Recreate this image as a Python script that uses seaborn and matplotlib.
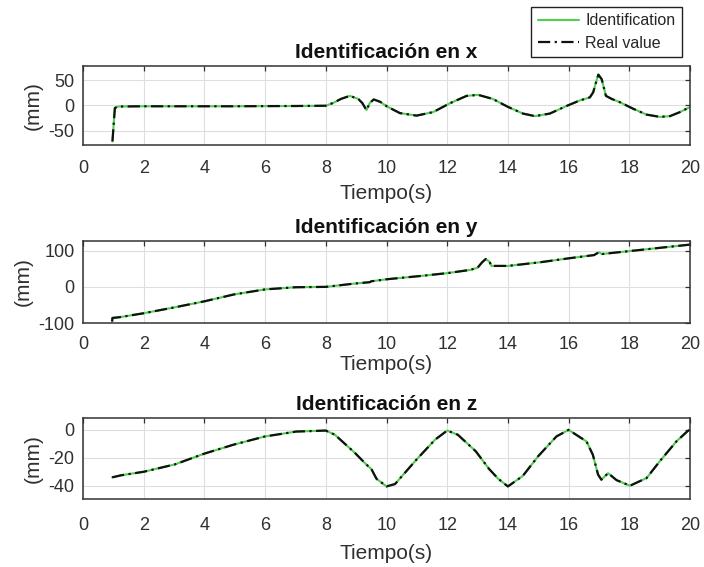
import numpy as np
import pandas as pd
import matplotlib
matplotlib.use("Agg")
import matplotlib.pyplot as plt
import seaborn as sns

# ---- data: position of the end effector per axis (mm) vs time (s) ----
t_x = [0.97, 1.05, 1.15, 2, 3, 4, 5, 6, 7, 8.0, 8.24, 8.5, 8.79, 9.07, 9.2,
       9.34, 9.45, 9.58, 9.8, 10.02, 10.44, 10.99, 11.54, 12.09, 12.64, 13.02,
       13.5, 14.01, 14.5, 14.89, 15.38, 15.93, 16.37, 16.7, 16.81, 16.9, 16.98,
       17.09, 17.23, 17.42, 17.69, 18.13, 18.57, 19.01, 19.34, 19.67, 20.0]
real_x = [-71, -5, -2, -1.5, -1.5, -1.5, -1.5, -1.2, -1, -0.5, 5, 13, 19, 13,
          5, -9, 5, 12, 7, -2, -15, -20, -13, 4.5, 19, 21, 13, -3, -16, -21,
          -16, -1, 10, 16, 26, 45, 61, 52, 19, 13, 6.5, -6.5, -18, -22.5, -21,
          -13, -3]

t_y = [0.96, 0.97, 1.2, 2.0, 3.0, 4.0, 4.97, 6.0, 7.0, 8.0, 8.93, 9.45, 9.5,
       10.0, 11.1, 12.0, 12.76, 13.0, 13.15, 13.27, 13.39, 13.46, 14.0, 15.05,
       16.0, 16.84, 17.0, 17.1, 18.0, 19.0, 20.0]
real_y = [-96, -86, -84, -73, -57, -40, -21, -7, -1, 0, 9, 13, 15.5, 21, 30,
          38, 47, 53, 68, 77, 70, 58, 58, 68, 79, 88, 96, 91, 99, 108, 117]

t_z = [0.96, 1.26, 2.0, 3.03, 4.0, 4.96, 6.0, 7.03, 8.0, 8.3, 8.96, 9.33, 9.5,
       9.67, 10.0, 10.28, 11.0, 11.6, 12.0, 12.35, 12.94, 13.38, 13.68, 14.0,
       14.49, 15.0, 15.6, 16.0, 16.59, 16.8, 16.97, 17.08, 17.3, 17.58, 18.02,
       18.57, 19.0, 19.55, 19.93, 20.0]
real_z = [-34, -32.5, -30, -24.7, -17, -10.6, -4.7, -1.2, -0.5, -3.5, -16.5,
          -24.7, -28, -35, -40.5, -38.8, -21, -7, -0.5, -3.5, -15.3, -28, -35,
          -40.5, -33, -18.8, -4.7, 0, -8.3, -17.9, -32, -35.7, -31, -36, -40,
          -34.5, -22.6, -8.3, -0.7, 0]

# the identified model tracks the measured trajectory
ident_x, ident_y, ident_z = real_x, real_y, real_z

titles = ["Identificación en x", "Identificación en y", "Identificación en z"]
y_ticks = [[-50, 0, 50], [-100, 0, 100], [-40, -20, 0]]
y_limits = [(-78, 78), (-100, 127), (-49.5, 8.5)]
x_ticks = list(range(0, 21, 2))

sns.set_theme(style="white")
plt.rcParams["font.family"] = ["Liberation Sans", "DejaVu Sans"]
plt.rcParams["axes.unicode_minus"] = False

fig = plt.figure(figsize=(7.04, 5.67), dpi=100)
fig.patch.set_facecolor("white")

left, width = 83 / 704, 607 / 704
boxes = [(66, 145), (241, 323), (418, 499)]
x_pads = [11, 9.5, 13]
xlabel_pads = [5, 1, 7]
H = 567.0

series = [(t_x, ident_x, real_x), (t_y, ident_y, real_y), (t_z, ident_z, real_z)]
ident_color = "#4fcf4f"
text_color = "#303030"

for i, ((top, bot), (tt, ident, real)) in enumerate(zip(boxes, series)):
    ax = fig.add_axes([left, 1 - bot / H, width, (bot - top) / H])
    df = pd.DataFrame({"t": tt, "ident": ident, "real": real})
    sns.lineplot(data=df, x="t", y="ident", ax=ax, color=ident_color, lw=1.5,
                 sort=False, estimator=None, label="Identification", legend=False)
    sns.lineplot(data=df, x="t", y="real", ax=ax, color="#111111", lw=1.6,
                 sort=False, estimator=None, label="Real value", legend=False,
                 linestyle=(0, (5.5, 2, 1, 2)))
    ax.set_xlim(0, 20)
    ax.set_ylim(*y_limits[i])
    ax.set_xticks(x_ticks)
    ax.set_yticks(y_ticks[i])
    ax.grid(True, color="#dedede", lw=0.8)
    ax.set_axisbelow(True)
    ax.tick_params(direction="in", top=True, right=True, length=3.5, width=0.9,
                   color="#333333", labelsize=13, labelcolor=text_color)
    ax.tick_params(axis="x", pad=x_pads[i])
    ax.tick_params(axis="y", pad=6)
    for s in ax.spines.values():
        s.set_color("#333333")
        s.set_linewidth(1.1)
    ax.set_xlabel("Tiempo(s)", fontsize=15, color=text_color,
                  labelpad=xlabel_pads[i])
    ax.set_ylabel("(mm)", fontsize=15, color=text_color, labelpad=4)
    ax.set_title(titles[i], fontsize=15, fontweight="bold", color="#111111", pad=6)
    if i == 0:
        handles, labels = ax.get_legend_handles_labels()

leg = fig.legend(handles, labels, loc="upper right",
                 bbox_to_anchor=(682 / 704, 1 - 7 / 567), fontsize=11.5,
                 frameon=True, fancybox=False, framealpha=1, edgecolor="#222222",
                 handlelength=2.6, borderpad=0.4, labelspacing=0.45,
                 handletextpad=0.4, borderaxespad=0)
leg.get_frame().set_linewidth(1.0)

fig.savefig("out.png", dpi=100, facecolor="white")
